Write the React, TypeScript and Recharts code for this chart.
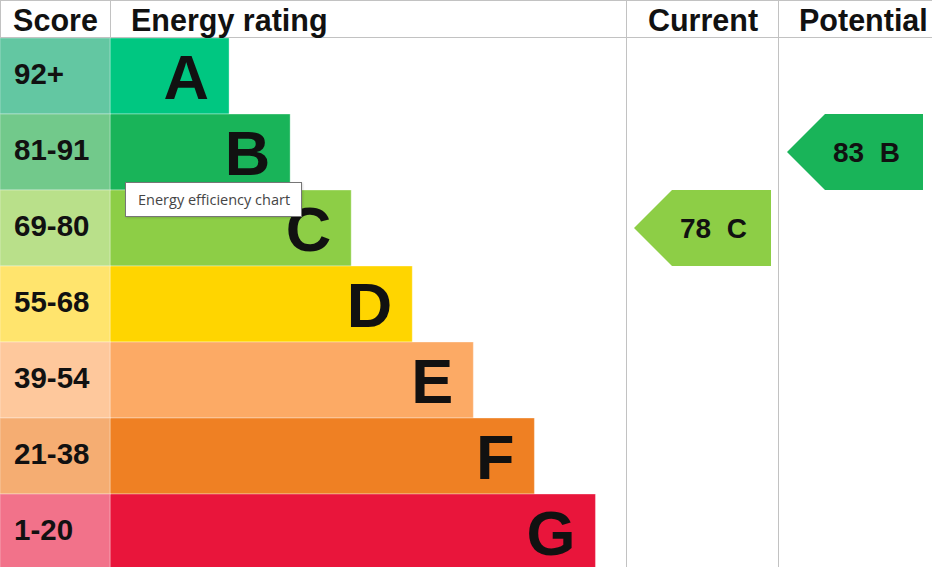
import { BarChart, Bar, XAxis, YAxis, Cell, LabelList } from 'recharts'

// EPC bands, top (best) to bottom (worst)
const bands = ['A', 'B', 'C', 'D', 'E', 'F', 'G']
const scoreLabels = ['92+', '81-91', '69-80', '55-68', '39-54', '21-38', '1-20']
const bandMin = [92, 81, 69, 55, 39, 21, 1]
const barLengths = [2, 3, 4, 5, 6, 7, 8]
const barColors = ['#00c781', '#19b459', '#8dce46', '#ffd500', '#fcaa65', '#ef8023', '#e9153b']
const scoreColors = ['#63c7a2', '#72c98b', '#b9e08a', '#ffe46d', '#fec89c', '#f5ad72', '#f2728a']

const currentScore = 78
const potentialScore = 83

const FONT = '"Liberation Sans", Arial, sans-serif'
const ROW_H = 76
const HEADER_H = 38
const CHART_H = HEADER_H + ROW_H * bands.length

const bandOf = (score: number) => bands[bandMin.findIndex((m) => score >= m)]

const ratingData = bands.map((band, i) => ({
  band,
  score: scoreLabels[i],
  length: barLengths[i],
}))

const arrowData = (score: number) =>
  bands.map((band) => ({ band, value: band === bandOf(score) ? 1 : null, score }))

function ScoreTick(props: any) {
  const { y, index } = props
  return (
    <g>
      <rect x={0} y={y - ROW_H / 2} width={110} height={ROW_H} fill={scoreColors[index]} stroke="rgba(255,255,255,0.35)" />
      <text x={14} y={y + 8} fontSize={29.5} fontWeight="bold" fill="#111" fontFamily={FONT}>
        {scoreLabels[index]}
      </text>
    </g>
  )
}

function BandLetter(props: any) {
  const { x, y, width, height, value } = props
  return (
    <text
      x={x + width - 20}
      y={y + height / 2 + 23}
      textAnchor="end"
      fontSize={63}
      fontWeight="bold"
      fill="#111"
      fontFamily={FONT}
    >
      {value}
    </text>
  )
}

function ArrowShape(props: any) {
  const { x, y, width, height, fill, payload } = props
  if (!width || !height) return null
  const tip = height / 2
  const pts = [
    [x, y + height / 2],
    [x + tip, y],
    [x + width, y],
    [x + width, y + height],
    [x + tip, y + height],
  ]
    .map((p) => p.join(','))
    .join(' ')
  return (
    <g>
      <polygon points={pts} fill={fill} />
      <text
        x={x + 46}
        y={y + height / 2 + 10}
        fontSize={28}
        fontWeight="bold"
        fill="#111"
        fontFamily={FONT}
        style={{ whiteSpace: 'pre' }}
      >
        {`${payload.score}  ${payload.band}`}
      </text>
    </g>
  )
}

function ArrowColumn({ score, width, left, right }: { score: number; width: number; left: number; right: number }) {
  const color = barColors[bands.indexOf(bandOf(score))]
  return (
    <BarChart
      layout="vertical"
      width={width}
      height={CHART_H}
      data={arrowData(score)}
      margin={{ top: HEADER_H, right, bottom: 0, left }}
      barCategoryGap={0}
    >
      <XAxis type="number" hide domain={[0, 1]} />
      <YAxis type="category" dataKey="band" hide />
      <Bar dataKey="value" fill={color} shape={<ArrowShape />} isAnimationActive={false} />
    </BarChart>
  )
}

export default function App() {
  const lineColor = '#c2c2c2'
  return (
    <div
      style={{
        position: 'fixed',
        left: 0,
        top: 0,
        width: 932,
        height: 567,
        overflow: 'hidden',
        background: '#fff',
        fontFamily: FONT,
      }}
    >
      <div style={{ position: 'absolute', left: 0, top: 0 }}>
        <BarChart
          layout="vertical"
          width={626}
          height={CHART_H}
          data={ratingData}
          margin={{ top: HEADER_H, right: 0, bottom: 0, left: 0 }}
          barCategoryGap={0}
        >
          <XAxis type="number" hide domain={[0.05, 8.5]} />
          <YAxis
            type="category"
            dataKey="band"
            width={110}
            axisLine={false}
            tickLine={false}
            interval={0}
            tick={<ScoreTick />}
          />
          <Bar dataKey="length" isAnimationActive={false} stroke="rgba(255,255,255,0.35)">
            {ratingData.map((d, i) => (
              <Cell key={d.band} fill={barColors[i]} />
            ))}
            <LabelList dataKey="band" content={<BandLetter />} />
          </Bar>
        </BarChart>
      </div>
      <div style={{ position: 'absolute', left: 626, top: 0 }}>
        <ArrowColumn score={currentScore} width={152} left={8} right={7} />
      </div>
      <div style={{ position: 'absolute', left: 778, top: 0 }}>
        <ArrowColumn score={potentialScore} width={154} left={9} right={9} />
      </div>
      <svg width={932} height={567} style={{ position: 'absolute', left: 0, top: 0, pointerEvents: 'none' }}>
        <line x1={0} x2={932} y1={0.5} y2={0.5} stroke={lineColor} />
        <line x1={0.5} x2={0.5} y1={0} y2={HEADER_H} stroke={lineColor} />
        <line x1={0} x2={932} y1={HEADER_H - 0.5} y2={HEADER_H - 0.5} stroke={lineColor} />
        <line x1={110.5} x2={110.5} y1={0} y2={HEADER_H} stroke={lineColor} />
        <line x1={626.5} x2={626.5} y1={0} y2={567} stroke={lineColor} />
        <line x1={778.5} x2={778.5} y1={0} y2={567} stroke={lineColor} />
        <g fontFamily={FONT} fontWeight="bold" fontSize={30.5} fill="#111">
          <text x={55.5} y={30.5} textAnchor="middle">Score</text>
          <text x={131} y={30.5}>Energy rating</text>
          <text x={703} y={30.5} textAnchor="middle">Current</text>
          <text x={799} y={30.5}>Potential</text>
        </g>
      </svg>
      <div
        style={{
          position: 'absolute',
          left: 125,
          top: 182,
          width: 163,
          height: 33,
          background: '#fff',
          border: '1px solid #767676',
          boxShadow: '1px 1px 2px rgba(0,0,0,0.15)',
          fontFamily: '"Open Sans", "Noto Sans", sans-serif',
          fontSize: 14.5,
          color: '#454545',
          lineHeight: '33px',
          paddingLeft: 12,
          boxSizing: 'content-box',
          whiteSpace: 'nowrap',
          overflow: 'hidden',
        }}
      >
        Energy efficiency chart
      </div>
    </div>
  )
}
